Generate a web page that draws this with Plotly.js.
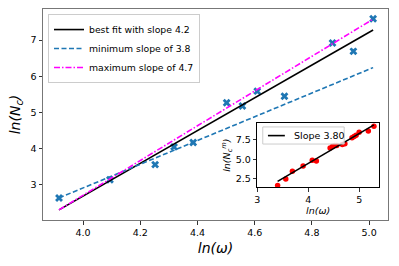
<!DOCTYPE html>
<html><head><meta charset="utf-8">
<script src="https://cdn.plot.ly/plotly-3.0.1.min.js"></script>
<style>body{margin:0;padding:0;background:#fff}#chart{width:399px;height:266px}</style>
</head><body><div id="chart"></div>
<script>
// Main data: ln(omega) vs ln(N_c)
const lnOmega = [3.916, 4.094, 4.252, 4.318, 4.385, 4.502, 4.557, 4.609, 4.704, 4.872, 4.945, 5.014];
const lnNc    = [2.64, 3.14, 3.56, 4.05, 4.17, 5.27, 5.18, 5.59, 5.45, 6.92, 6.69, 7.59];
// Fit lines (end points)
const fitX   = [3.916, 5.014];
const bestY  = [2.31, 7.28];
const minY   = [2.64, 6.24];
const maxY   = [2.31, 7.58];
// Inset data
const insetX = [3.40, 3.56, 3.69, 3.90, 4.08, 4.16, 4.43, 4.48, 4.52, 4.56, 4.67, 4.72, 4.86, 4.90, 4.94, 5.00, 5.18, 5.29];
const insetY = [1.68, 2.50, 3.50, 4.15, 4.88, 4.80, 6.44, 6.66, 6.75, 6.75, 6.90, 7.00, 7.75, 7.90, 8.06, 8.45, 8.62, 9.23];
const insetFitX = [3.40, 5.29];
const insetFitY = [2.20, 9.40];
const insetLegendLabel = 'Slope 3.80';

const F = "DejaVu Sans, sans-serif";
const traces = [
  {x: lnOmega, y: lnNc, mode: 'markers', type: 'scatter', showlegend: false,
   marker: {symbol: 'x', size: 7, color: '#1f77b4'}},
  {x: fitX, y: bestY, mode: 'lines', name: 'best fit with slope 4.2', line: {color: '#000', width: 1.6}},
  {x: fitX, y: minY, mode: 'lines', name: 'minimum slope of 3.8', line: {color: '#1f77b4', width: 1.6, dash: '5px,2.5px'}},
  {x: fitX, y: maxY, mode: 'lines', name: 'maximum slope of 4.7', line: {color: '#ff00ff', width: 1.6, dash: '6px,2px,1.5px,2px'}},
  {x: insetX, y: insetY, mode: 'markers', xaxis: 'x2', yaxis: 'y2', showlegend: false,
   marker: {symbol: 'circle', size: 5.5, color: '#ff0000'}},
  {x: insetFitX, y: insetFitY, mode: 'lines', xaxis: 'x2', yaxis: 'y2', showlegend: false,
   line: {color: '#000', width: 1.6}}
];
const axBase = {showgrid: false, zeroline: false, ticks: 'outside', ticklen: 3.5, tickwidth: 0.8, tickcolor: '#000',
  showline: true, mirror: true, linewidth: 1, tickfont: {family: F, size: 9.5, color: '#000'}};
const layout = {
  width: 399, height: 266,
  margin: {l: 43, r: 11, t: 9, b: 46},
  paper_bgcolor: '#fff', plot_bgcolor: '#fff',
  font: {family: F, color: '#000'},
  xaxis: Object.assign({}, axBase, {range: [3.86, 5.066], tickvals: [4.0, 4.2, 4.4, 4.6, 4.8, 5.0],
    ticktext: ['4.0', '4.2', '4.4', '4.6', '4.8', '5.0'], linecolor: '#777', domain: [0, 1],
    title: {text: '<i>ln(ω)</i>', font: {family: F, size: 14}, standoff: 6}}),
  yaxis: Object.assign({}, axBase, {range: [2.03, 7.86], tickvals: [3, 4, 5, 6, 7], linecolor: '#777', domain: [0, 1],
    title: {text: '<i>ln(N<sub>c</sub>)</i>', font: {family: F, size: 14}, standoff: 6}}),
  xaxis2: Object.assign({}, axBase, {anchor: 'y2', domain: [0.621, 0.974], range: [3.0, 5.39], tickvals: [3, 4, 5],
    linecolor: '#000', tickfont: {family: F, size: 9.5},
    title: {text: '<i>ln(ω)</i>', font: {family: F, size: 9.5}, standoff: 3}}),
  yaxis2: Object.assign({}, axBase, {anchor: 'x2', domain: [0.155, 0.46], range: [1.44, 9.64], tickvals: [2.5, 5.0, 7.5],
    ticktext: ['2.5', '5.0', '7.5'], linecolor: '#000', tickfont: {family: F, size: 9.5},
    title: {text: '<i>ln(N<sub>c</sub><sup>m</sup>)</i>', font: {family: F, size: 9.5}, standoff: 3}}),
  legend: {x: 0.0145, y: 0.976, xanchor: 'left', yanchor: 'top', bgcolor: 'rgba(255,255,255,0.8)',
    bordercolor: '#ccc', borderwidth: 1, font: {family: F, size: 9.3}, tracegroupgap: 0, itemwidth: 30},
  shapes: [
    {type: 'rect', xref: 'paper', yref: 'paper', x0: 0.637, x1: 0.873, y0: 0.360, y1: 0.441,
     fillcolor: 'rgba(255,255,255,0.8)', line: {color: '#ccc', width: 1}},
    {type: 'line', xref: 'paper', yref: 'paper', x0: 0.652, x1: 0.701, y0: 0.400, y1: 0.400,
     line: {color: '#000', width: 1.6}}
  ],
  annotations: [
    {xref: 'paper', yref: 'paper', x: 0.722, y: 0.400, xanchor: 'left', yanchor: 'middle', showarrow: false,
     text: insetLegendLabel, font: {family: F, size: 9.5, color: '#000'}}
  ]
};
Plotly.newPlot('chart', traces, layout, {displayModeBar: false, staticPlot: true});
</script></body></html>
